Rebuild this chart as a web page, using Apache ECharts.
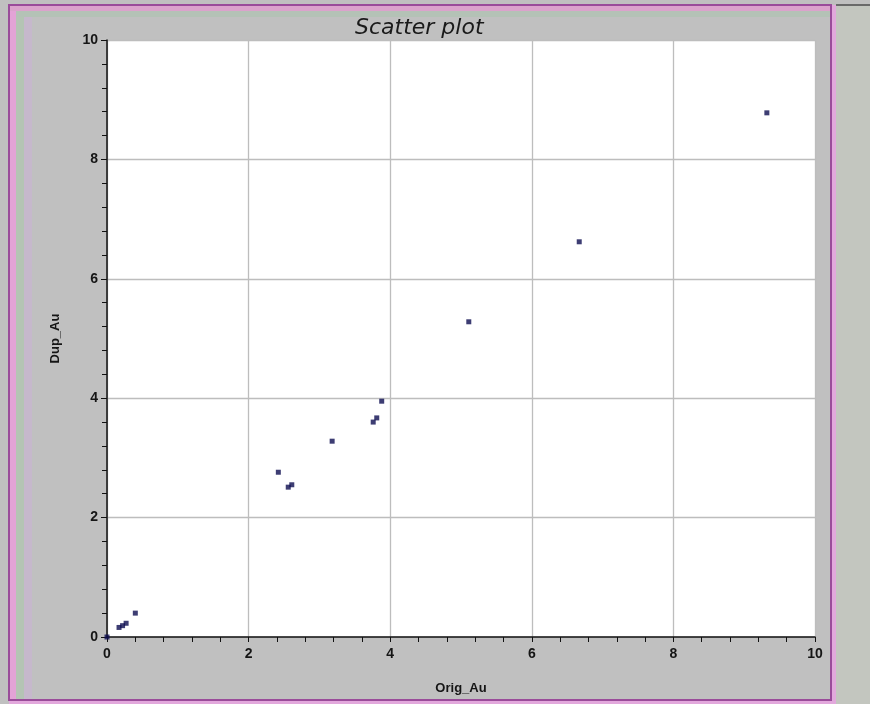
<!DOCTYPE html>
<html><head><meta charset="utf-8">
<script src="https://cdn.jsdelivr.net/npm/echarts@6/dist/echarts.min.js"></script>
<style>html,body{margin:0;padding:0;background:#c0c0c0}#c{width:870px;height:704px}</style>
</head><body><div id="c"></div>
<script>
var origAu = [0, 0.17, 0.22, 0.27, 0.40, 2.42, 2.56, 2.61, 3.18, 3.76, 3.81, 3.88, 5.11, 6.67, 9.32];
var dupAu  = [0, 0.16, 0.19, 0.23, 0.40, 2.76, 2.51, 2.55, 3.28, 3.60, 3.67, 3.95, 5.28, 6.62, 8.78];
var xTicks = [0, 2, 4, 6, 8, 10];
var yTicks = [0, 2, 4, 6, 8, 10];
var titleText = 'Scatter plot';
var xName = 'Orig_Au', yName = 'Dup_Au';

var pts = origAu.map(function(v,i){return [v, dupAu[i]];});
var chart = echarts.init(document.getElementById('c'), null, {renderer:'canvas'});
var lblStyle = {color:'#151515', fontFamily:'Arial, Liberation Sans, sans-serif', fontSize:14, fontWeight:'bold'};
chart.setOption({
  backgroundColor:'#c0c0c0',
  animation:false,
  grid:{left:107, right:55, top:40, bottom:67, show:true, backgroundColor:'#ffffff', borderWidth:0},
  xAxis:{type:'value', min:xTicks[0], max:xTicks[xTicks.length-1], interval:2,
    axisLine:{lineStyle:{color:'#111', width:1.5}},
    axisTick:{show:true, length:5, lineStyle:{color:'#111'}},
    minorTick:{show:true, splitNumber:5, length:5, lineStyle:{color:'#111'}},
    axisLabel:Object.assign({margin:10}, lblStyle),
    splitLine:{show:true, lineStyle:{color:'#bdbdbd', width:1.3}},
    name:xName, nameLocation:'middle', nameGap:45,
    nameTextStyle:{color:'#151515', fontFamily:'Arial, Liberation Sans, sans-serif', fontSize:13, fontWeight:'bold'}
  },
  yAxis:{type:'value', min:yTicks[0], max:yTicks[yTicks.length-1], interval:2,
    axisLine:{lineStyle:{color:'#111', width:1.5}},
    axisTick:{show:true, length:6, lineStyle:{color:'#111'}},
    minorTick:{show:true, splitNumber:5, length:5, lineStyle:{color:'#111'}},
    axisLabel:Object.assign({margin:9}, lblStyle),
    splitLine:{show:true, lineStyle:{color:'#bdbdbd', width:1.3}},
    name:yName, nameLocation:'middle', nameGap:45,
    nameTextStyle:{color:'#151515', fontFamily:'Arial, Liberation Sans, sans-serif', fontSize:13, fontWeight:'bold'}
  },
  series:[{type:'scatter', data:pts, symbol:'rect', symbolSize:5, itemStyle:{color:'#0c0c50'}}],
  graphic:[
    {type:'rect', shape:{x:836,y:5,width:34,height:699}, style:{fill:'#c3c6bf'}, silent:true},
    {type:'rect', shape:{x:836,y:4,width:34,height:2}, style:{fill:'#6a6a6a'}, silent:true},
    {type:'rect', shape:{x:10,y:6,width:6,height:693}, style:{fill:'#e3a3d6'}, silent:true},
    {type:'rect', shape:{x:10,y:6,width:820,height:5}, style:{fill:'#dba3cc'}, silent:true},
    {type:'rect', shape:{x:16,y:11,width:8,height:688}, style:{fill:'#b4c4b4'}, silent:true},
    {type:'rect', shape:{x:16,y:11,width:814,height:6}, style:{fill:'#b4c2b6'}, silent:true},
    {type:'rect', shape:{x:24,y:17,width:8,height:682}, style:{fill:'#c6b8cc'}, silent:true},
    {type:'rect', shape:{x:831,y:5,width:5,height:697}, style:{fill:'#e2a8dc'}, silent:true},
    {type:'rect', shape:{x:9,y:700,width:827,height:4}, style:{fill:'#e2a8dc'}, silent:true},
    {type:'rect', shape:{x:9,y:5,width:822,height:695}, style:{fill:'none', stroke:'#9a4c9a', lineWidth:2}, silent:true},
    {type:'text', left:355, top:17, style:{text:titleText, fill:'#1a1a1a', font:'italic 22px "DejaVu Sans", sans-serif'}, silent:true}
  ]
});
</script></body></html>
